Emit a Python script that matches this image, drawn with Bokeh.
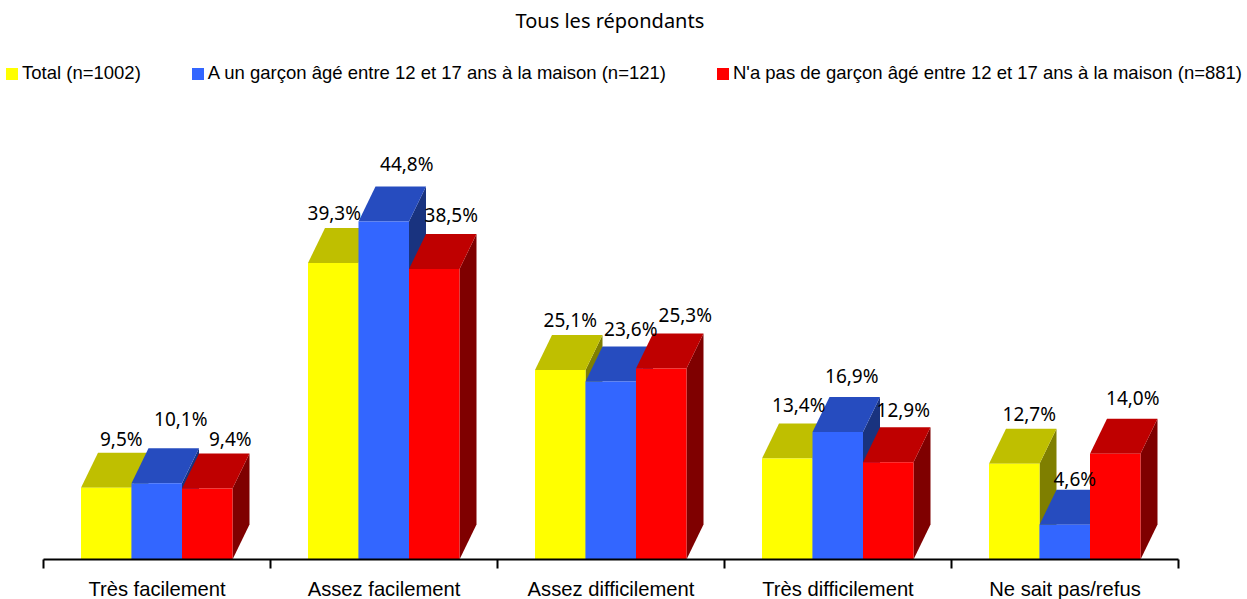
from bokeh.plotting import figure
from bokeh.models import Range1d, FixedTicker, Legend, LegendItem, ColumnDataSource, Title
from bokeh.core.properties import value
from bokeh.embed import file_html
from bokeh.resources import INLINE

# ---- data
categories = ["Très facilement", "Assez facilement", "Assez difficilement", "Très difficilement", "Ne sait pas/refus"]
series_names = ["Total (n=1002)", "A un garçon âgé entre 12 et 17 ans à la maison (n=121)",
                "N'a pas de garçon âgé entre 12 et 17 ans à la maison (n=881)"]
total = [9.5, 39.3, 25.1, 13.4, 12.7]
garcon = [10.1, 44.8, 23.6, 16.9, 4.6]
sans_garcon = [9.4, 38.5, 25.3, 12.9, 14.0]
chart_title = "Tous les répondants"

# ---- layout and style
W, H = 1247, 599
PX_X, PX_Y = 227.0, 7.545      # pixels per category, per percent
AXIS_LEFT, FRAME_H = 43, 522
GROUP_START = 37.5 / PX_X
BAR_W = 50.5 / PX_X
DX, DY = 17 / PX_X, 35 / PX_Y  # depth of the 3D extrusion
front = ["#FFFF00", "#3366FF", "#FF0000"]
top_c = ["#BFBF00", "#264CBF", "#BF0000"]
side = ["#7F7F00", "#19337F", "#7F0000"]
label_dx = [[15, 24, 23], [1, 23, 17], [10, 20, 24], [11.5, 14, 15], [15, 10, 17.5]]
label_dy = [[14, 29, 15], [15, 22, 19], [15, 17, 19], [18, 21, 17], [15, 11, 21]]

p = figure(width=W, height=H, frame_height=FRAME_H, output_backend="svg", toolbar_location=None,
           x_range=Range1d(-AXIS_LEFT / PX_X, (W - AXIS_LEFT) / PX_X),
           y_range=Range1d(0, FRAME_H / PX_Y),
           min_border=0, outline_line_color=None, y_axis_location=None)
p.grid.visible = False

p.title = Title(text=chart_title, text_font="Noto Sans", text_font_size="20px", text_font_style="normal",
                text_color="#000000", align="left", offset=515, standoff=8)

ax = p.xaxis[0]
ax.bounds = (0, len(categories))
ax.ticker = FixedTicker(ticks=[i + 0.5 for i in range(len(categories))],
                        minor_ticks=list(range(len(categories) + 1)))
ax.major_label_overrides = {i + 0.5: c for i, c in enumerate(categories)}
ax.major_tick_line_color = None
ax.minor_tick_line_color = "#000000"
ax.minor_tick_line_width = 2
ax.minor_tick_in = 0
ax.minor_tick_out = 9
ax.axis_line_color = "#000000"
ax.axis_line_width = 2
ax.major_label_text_font = "Liberation Sans"
ax.major_label_text_font_size = "20.2px"
ax.major_label_text_color = "#000000"
ax.major_label_standoff = 9

legend_items = []
lab_x, lab_y, lab_t, lab_dx, lab_dy = [], [], [], [], []
for s, vals in enumerate([total, garcon, sans_garcon]):
    lefts = [i + GROUP_START + s * BAR_W for i in range(len(vals))]
    rights = [l + BAR_W for l in lefts]
    p.patches([[r, r + DX, r + DX, r] for r in rights],
              [[0, DY, v + DY, v] for v in vals],
              fill_color=side[s], line_color=None)
    p.patches([[l, r, r + DX, l + DX] for l, r in zip(lefts, rights)],
              [[v, v, v + DY, v + DY] for v in vals],
              fill_color=top_c[s], line_color=None)
    r_front = p.quad(left=lefts, right=rights, bottom=0, top=vals, fill_color=front[s], line_color=None)
    legend_items.append(LegendItem(label=series_names[s], renderers=[r_front]))
    for i, v in enumerate(vals):
        lab_x.append(lefts[i] + BAR_W / 2)
        lab_y.append(v + DY)
        lab_t.append(f"{v:.1f}%".replace(".", ","))
        lab_dx.append(label_dx[i][s])
        lab_dy.append(-label_dy[i][s])

p.text(x="x", y="y", text="t", x_offset="dx", y_offset="dy",
       source=ColumnDataSource(dict(x=lab_x, y=lab_y, t=lab_t, dx=lab_dx, dy=lab_dy)),
       text_font=value("Noto Sans"), text_font_size="19px", text_color="#000000",
       text_align="center", text_baseline="middle")

leg = Legend(items=legend_items, orientation="horizontal", location=(4, FRAME_H - 47),
             background_fill_alpha=0, border_line_color=None, padding=0, margin=0, spacing=49,
             glyph_width=15, glyph_height=15, label_standoff=3, label_text_font="Liberation Sans",
             label_text_font_size="18.5px", label_text_color="#000000", label_height=20)
p.add_layout(leg, "center")

open("out.html", "w").write(file_html(p, INLINE))
